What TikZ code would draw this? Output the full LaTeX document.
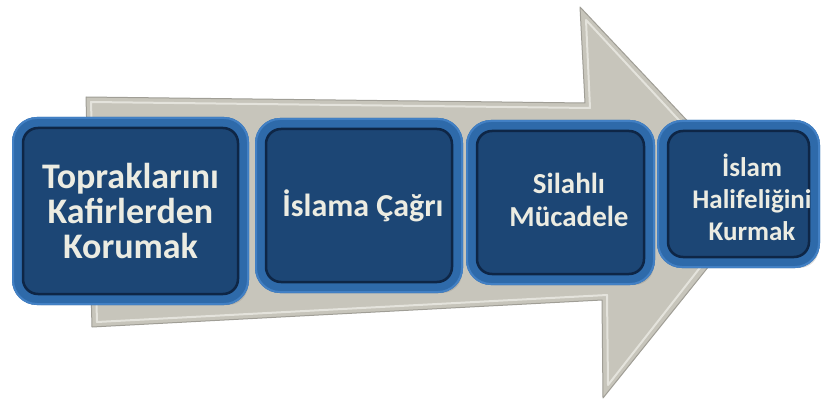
\documentclass[tikz,border=0pt]{standalone}
\usepackage{fontspec}
\setmainfont{Carlito}
\usetikzlibrary{shadows}

\definecolor{arrowgray}{RGB}{199,197,187}
\definecolor{arrowedge}{RGB}{160,158,150}
\definecolor{arrowlight}{RGB}{228,227,220}
\definecolor{ringblue}{RGB}{46,106,170}
\definecolor{ringlight}{RGB}{66,128,196}
\definecolor{panelblue}{RGB}{28,70,117}
\definecolor{paneldark}{RGB}{14,38,70}
\definecolor{labelwhite}{RGB}{236,236,226}

\tikzset{
  stagebox/.style={draw=ringblue, fill=panelblue, line width=10pt, outer sep=0pt,
    rounded corners=20pt,
    drop shadow={shadow xshift=4pt, shadow yshift=-5pt, opacity=0.3}},
  stagetext/.style={text=labelwhite, align=center},
}

\begin{document}
\begin{tikzpicture}[x=1pt, y=-1pt]
  \useasboundingbox (0,0) rectangle (824,401);

  % Big arrow behind the stages
  \draw[fill=arrowgray, draw=arrowedge, line width=1pt, line join=round]
    (86,97) -- (585,103) -- (580,7) -- (762,200) -- (603,398) -- (602,300) -- (92,327) -- cycle;
  \draw[arrowlight, line width=2pt, line join=round]
    (91,102) -- (590,108) -- (586,20) -- (753,200) -- (608,385) -- (607,295) -- (97,322) -- cycle;

  % Stage boxes
  \node[stagebox, minimum width=227pt, minimum height=178pt] (b1) at (130.5,211) {};
  \node[stagebox, minimum width=198pt, minimum height=165pt] (b2) at (359,205.5) {};
  \node[stagebox, minimum width=179pt, minimum height=155pt] (b3) at (560.5,202.5) {};
  \node[stagebox, minimum width=153pt, minimum height=138pt] (b4) at (738.5,194) {};

  % bevel lines of the boxes
  \foreach \b in {b1,b2,b3,b4} {
    \draw[ringlight, line width=2pt, rounded corners=24pt]
      ([shift={(-4,-4)}]\b.north west) rectangle ([shift={(4,4)}]\b.south east);
    \draw[paneldark, line width=2.5pt, rounded corners=15pt]
      ([shift={(6,6)}]\b.north west) rectangle ([shift={(-6,-6)}]\b.south east);
  }

  % Labels
  \node[stagetext, font=\fontsize{36}{35}\selectfont\bfseries] (t1) at (b1.center)
    {Topraklarını\\Kafirlerden\\Korumak};
  \node[stagetext, font=\fontsize{32}{34}\selectfont\bfseries] (t2) at (363,206)
    {İslama Çağrı};
  \node[stagetext, font=\fontsize{29}{33}\selectfont\bfseries] (t3) at (569,200)
    {Silahlı\\Mücadele};
  \node[stagetext, font=\fontsize{27}{32}\selectfont\bfseries] (t4) at (752,197)
    {İslam\\Halifeliğini\\Kurmak};
\end{tikzpicture}
\end{document}
